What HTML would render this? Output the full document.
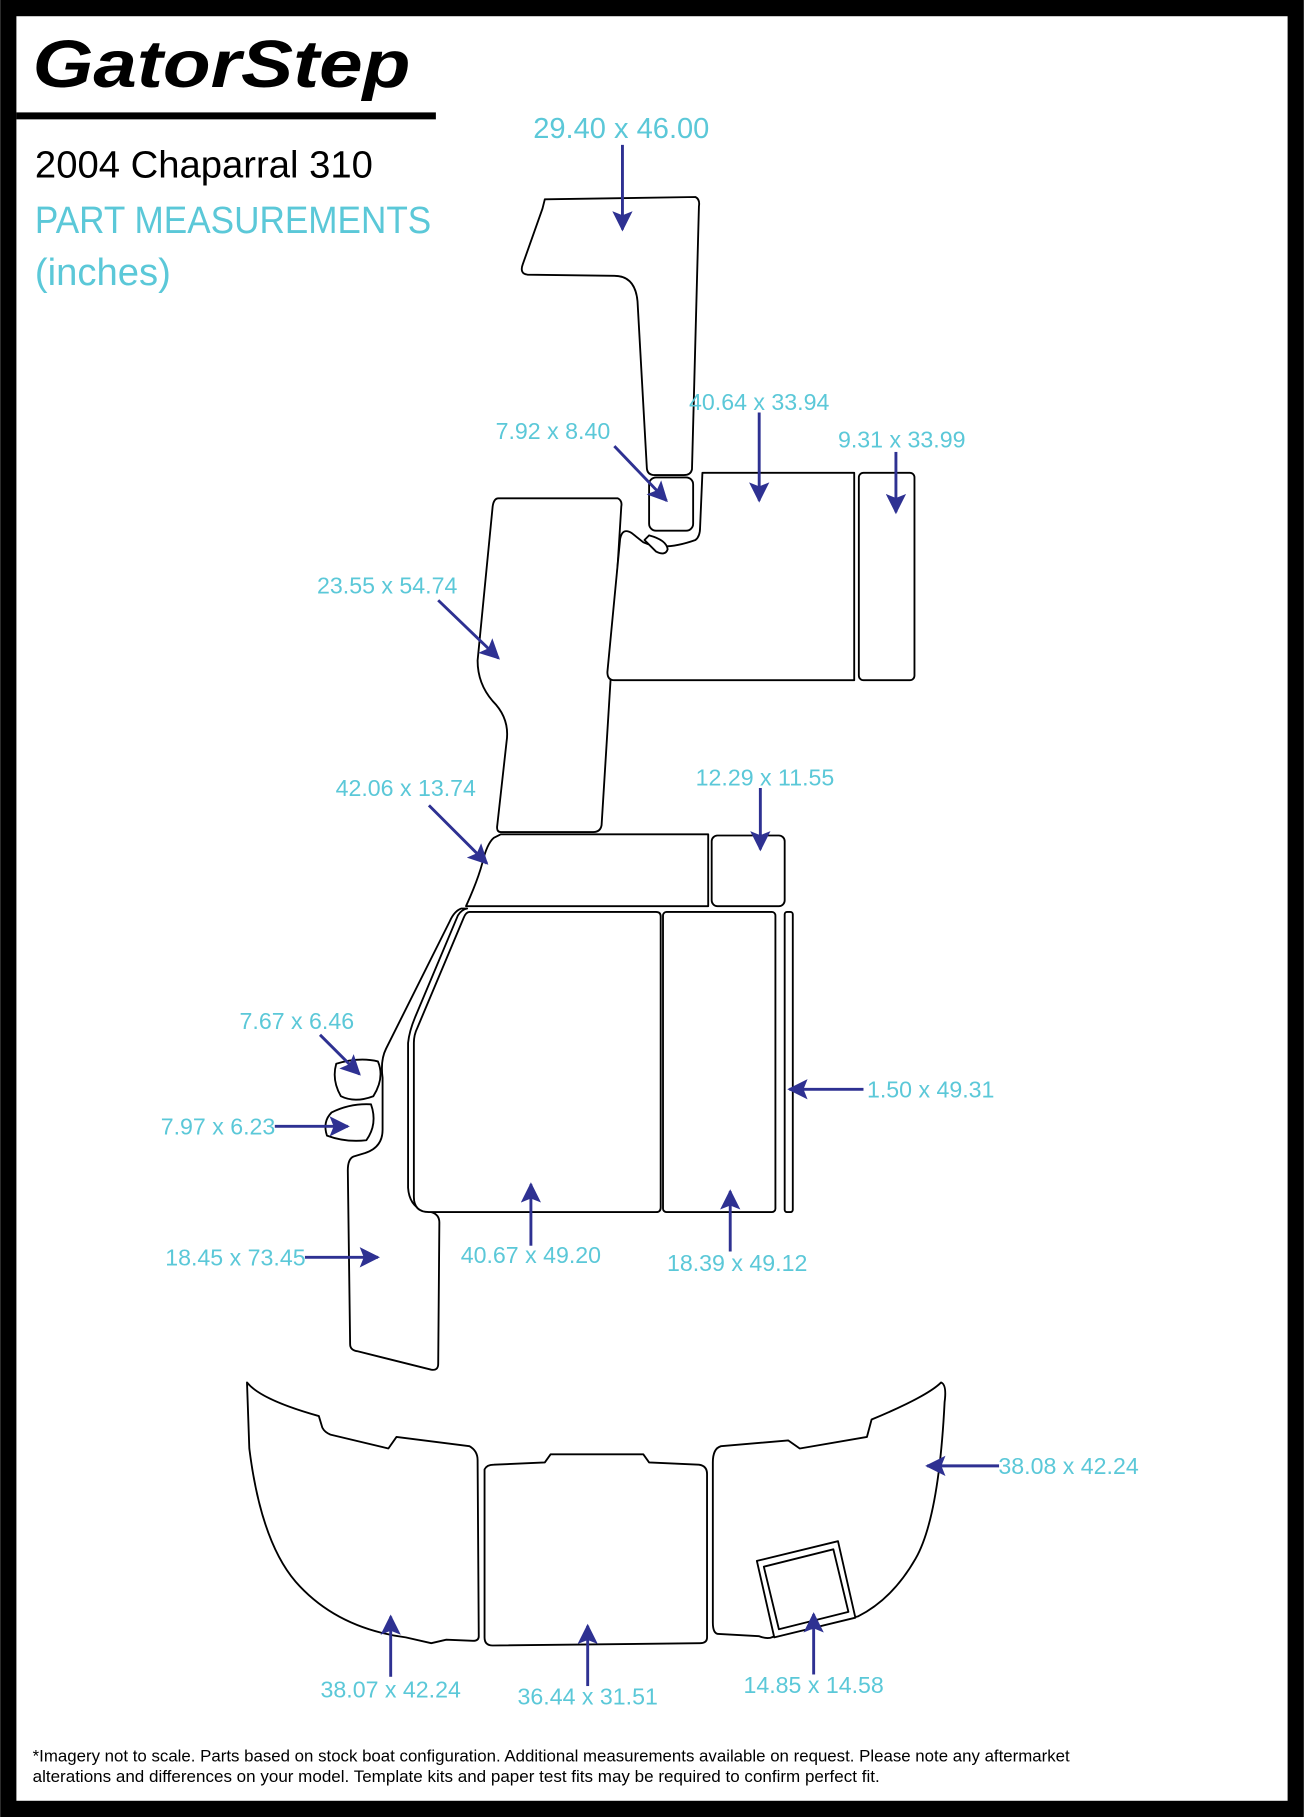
<!DOCTYPE html>
<html><head><meta charset="utf-8"><style>
html,body{margin:0;padding:0;background:#fff}
svg{display:block}
text{font-family:"Liberation Sans",sans-serif}
.c{fill:#5bc8d8}
.p{fill:#fff;stroke:#000;stroke-width:1.6;stroke-linejoin:round}
.a{stroke:#2e3192;stroke-width:2.5;fill:none}
</style></head><body>
<svg width="1304" height="1817" viewBox="0 0 1125 1568" xmlns="http://www.w3.org/2000/svg">
<defs><marker id="m" viewBox="0 0 10 10" refX="9" refY="5" markerWidth="8" markerHeight="7" orient="auto" markerUnits="strokeWidth"><path d="M0,0 L10,5 L0,10 L2,5 Z" fill="#2e3192"/></marker></defs>
<rect x="7" y="7" width="1111" height="1554" fill="none" stroke="#000" stroke-width="14"/>
<text x="28" y="75" font-size="58" font-weight="bold" font-style="italic" textLength="326" lengthAdjust="spacingAndGlyphs" style="font-family:'Liberation Sans',sans-serif">GatorStep</text>
<rect x="14" y="97" width="362" height="6" fill="#000"/>
<text x="30" y="153" font-size="33">2004 Chaparral 310</text>
<text x="30" y="201" font-size="33" class="c" textLength="342" lengthAdjust="spacingAndGlyphs">PART MEASUREMENTS</text>
<text x="30" y="246" font-size="33" class="c">(inches)</text>

<!-- parts -->
<path class="p" d="M470,172 L600,170 Q604,172 603,178 L597,405 Q596,410 590,410 L565,410 Q558,410 558,403 L550,260 Q548,238 530,238 L455,237 Q448,236 451,228 L468,180 Z"/>
<rect class="p" x="560" y="412" width="38" height="46" rx="6"/>
<path class="p" d="M430,430 L533,430 Q537,432 536,437 L519,712 Q518,718 512,718 L432,718 Q428,718 429,712 L437,640 Q440,620 425,605 Q412,590 412,570 L425,437 Q426,430 430,430 Z"/>
<path class="p" d="M606,408 L737,408 L737,587 L530,587 Q524,587 524,580 L535,465 Q537,455 545,460 L555,468 Q572,476 600,466 Q604,463 604,455 Z"/>
<path class="p" d="M560,462 Q575,466 576,474 Q574,480 566,476 Q560,470 556,466 Z"/>
<rect class="p" x="741" y="408" width="48" height="179" rx="4"/>
<path class="p" d="M432,720 L611,720 L611,782 L402,782 Q412,760 416,745 Q420,728 426,723 Z"/>
<rect class="p" x="614" y="721" width="63" height="61" rx="5"/>
<path class="p" d="M388,795 L333,905 Q328,915 330,930 L330,975 Q330,990 315,995 L305,998 Q300,1000 300,1010 L302,1160 Q302,1165 308,1166 L372,1182 Q378,1183 378,1177 L379,1055 Q379,1048 372,1046 L365,1045 Q353,1040 352,1025 L352,900 Q353,890 358,878 L395,790 Q398,785 403,784 L398,784 Q392,786 388,795 Z"/>
<path class="p" d="M405,787 L566,787 Q570,787 570,791 L570,1042 Q570,1046 566,1046 L370,1046 Q357,1046 357,1033 L357,900 Q357,893 360,887 L400,792 Q402,787 405,787 Z"/>
<rect class="p" x="572" y="787" width="97" height="259" rx="3"/>
<rect class="p" x="677" y="787" width="7" height="259" rx="2"/>
<path class="p" d="M290,918 Q310,912 326,916 Q332,930 322,946 Q306,952 294,946 Q286,932 290,918 Z"/>
<path class="p" d="M286,960 Q302,952 320,953 Q326,970 316,984 Q298,986 282,980 Q278,968 286,960 Z"/>

<path class="p" d="M213,1193 Q225,1208 275,1222 L278,1232 Q280,1236 285,1238 L335,1250 L342,1240 L405,1248 Q412,1252 412,1260 L413,1412 Q413,1416 408,1416 L385,1415 L372,1418 L350,1413 Q290,1405 255,1365 Q225,1330 215,1250 Z"/>
<path class="p" d="M418,1268 Q420,1264 426,1264 L470,1262 L475,1255 L555,1255 L560,1262 L603,1264 Q610,1265 610,1272 L610,1413 Q610,1418 604,1418 L425,1420 Q418,1420 418,1413 Z"/>
<path class="p" d="M622,1248 L680,1243 L690,1250 L748,1240 L752,1225 Q800,1205 812,1193 Q817,1195 815,1210 Q810,1310 790,1345 Q770,1380 740,1395 L670,1410 Q665,1416 655,1412 L620,1410 Q615,1410 615,1400 L615,1262 Q615,1250 622,1248 Z"/>
<path class="p" d="M653,1347 L723,1330 L738,1396 L668,1413 Z"/>
<path class="p" d="M659,1352 L719,1337 L732,1391 L672,1406 Z"/>

<!-- arrows -->
<g class="a">
<line x1="537" y1="125" x2="537" y2="198" marker-end="url(#m)"/>
<line x1="655" y1="356" x2="655" y2="432" marker-end="url(#m)"/>
<line x1="773" y1="390" x2="773" y2="442" marker-end="url(#m)"/>
<line x1="530" y1="385" x2="575" y2="432" marker-end="url(#m)"/>
<line x1="378" y1="518" x2="430" y2="568" marker-end="url(#m)"/>
<line x1="370" y1="695" x2="420" y2="745" marker-end="url(#m)"/>
<line x1="656" y1="680" x2="656" y2="733" marker-end="url(#m)"/>
<line x1="276" y1="893" x2="310" y2="927" marker-end="url(#m)"/>
<line x1="237" y1="972" x2="300" y2="972" marker-end="url(#m)"/>
<line x1="745" y1="940" x2="681" y2="940" marker-end="url(#m)"/>
<line x1="263" y1="1085" x2="326" y2="1085" marker-end="url(#m)"/>
<line x1="458" y1="1075" x2="458" y2="1022" marker-end="url(#m)"/>
<line x1="630" y1="1080" x2="630" y2="1028" marker-end="url(#m)"/>
<line x1="862" y1="1265" x2="800" y2="1265" marker-end="url(#m)"/>
<line x1="337" y1="1447" x2="337" y2="1395" marker-end="url(#m)"/>
<line x1="507" y1="1455" x2="507" y2="1403" marker-end="url(#m)"/>
<line x1="702" y1="1445" x2="702" y2="1393" marker-end="url(#m)"/>
</g>

<g class="c" font-size="20" text-anchor="middle">
<text x="536" y="119" font-size="25" textLength="152" lengthAdjust="spacingAndGlyphs">29.40 x 46.00</text>
<text x="655" y="354">40.64 x 33.94</text>
<text x="778" y="386">9.31 x 33.99</text>
<text x="477" y="379">7.92 x 8.40</text>
<text x="334" y="512">23.55 x 54.74</text>
<text x="350" y="687">42.06 x 13.74</text>
<text x="660" y="678">12.29 x 11.55</text>
<text x="256" y="888">7.67 x 6.46</text>
<text x="188" y="979">7.97 x 6.23</text>
<text x="803" y="947">1.50 x 49.31</text>
<text x="203" y="1092">18.45 x 73.45</text>
<text x="458" y="1090">40.67 x 49.20</text>
<text x="636" y="1097">18.39 x 49.12</text>
<text x="922" y="1272">38.08 x 42.24</text>
<text x="337" y="1465">38.07 x 42.24</text>
<text x="507" y="1471">36.44 x 31.51</text>
<text x="702" y="1461">14.85 x 14.58</text>
</g>

<text x="28" y="1520" font-size="14" textLength="895" lengthAdjust="spacingAndGlyphs">*Imagery not to scale. Parts based on stock boat configuration. Additional measurements available on request. Please note any aftermarket</text>
<text x="28" y="1538" font-size="14" textLength="731" lengthAdjust="spacingAndGlyphs">alterations and differences on your model. Template kits and paper test fits may be required to confirm perfect fit.</text>
</svg>
</body></html>
